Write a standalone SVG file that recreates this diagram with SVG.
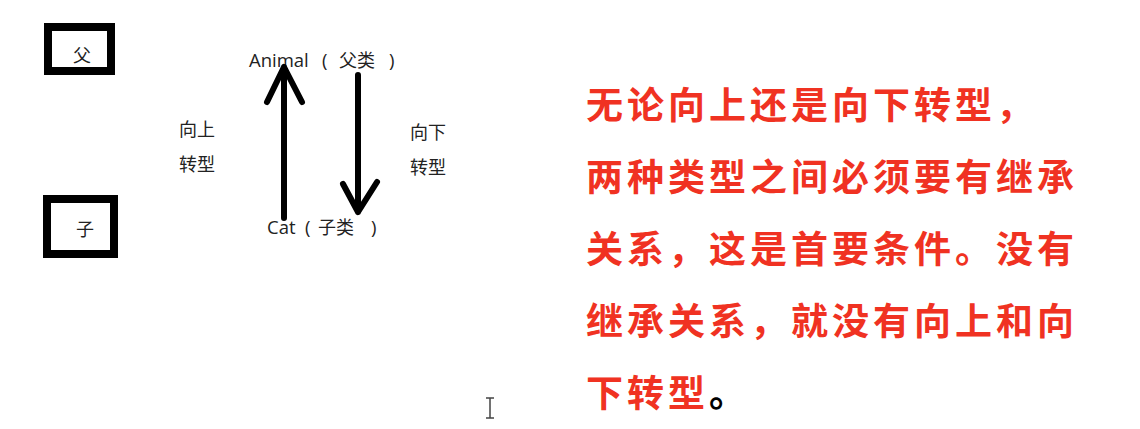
<svg xmlns="http://www.w3.org/2000/svg" width="1140" height="429" viewBox="0 0 1140 429">
<style>
.box{fill:#fff;stroke:#000;stroke-width:8}
.lbl{font-family:"Noto Sans CJK SC","Noto Sans",sans-serif;font-size:18px;fill:#222}
.lat{font-family:"Open Sans","Noto Sans CJK SC",sans-serif;font-size:18.5px;fill:#222}
.red{font-family:"Noto Sans CJK SC",sans-serif;font-size:37px;font-weight:bold;fill:#f03222;letter-spacing:4px}
.arr{stroke:#000;stroke-width:6;fill:none;stroke-linecap:round;stroke-linejoin:round}
</style>
<rect width="1140" height="429" fill="#fff"/>
<g id="node-fu">
<rect class="box" x="48" y="27" width="63" height="44"/>
<text class="lbl" x="73" y="62">父</text>
</g>
<g id="node-zi">
<rect class="box" x="47" y="199" width="67" height="55"/>
<text class="lbl" x="76" y="236">子</text>
</g>
<g id="node-animal">
<text class="lat" x="249" y="67"><tspan>Animal</tspan><tspan x="322">(</tspan><tspan class="lbl" x="339">父类</tspan><tspan x="389">)</tspan></text>
</g>
<g id="node-cat">
<text class="lat" x="267" y="234"><tspan>Cat</tspan><tspan x="305">(</tspan><tspan class="lbl" x="318">子类</tspan><tspan x="371">)</tspan></text>
</g>
<g id="connectors">
<path class="arr" d="M284 218 V67 M267 102 L284 67 L302 102"/>
<path class="arr" d="M358 75 V212 M343 184 L358 212 L377 182"/>
</g>
<g id="labels">
<text class="lbl" x="179" y="136">向上</text>
<text class="lbl" x="179" y="171">转型</text>
<text class="lbl" x="410" y="139">向下</text>
<text class="lbl" x="410" y="174">转型</text>
</g>
<g id="note">
<text class="red" x="586" y="119">无论向上还是向下转型，</text>
<text class="red" x="586" y="191">两种类型之间必须要有继承</text>
<text class="red" x="586" y="263">关系，这是首要条件。没有</text>
<text class="red" x="586" y="335">继承关系，就没有向上和向</text>
<text class="red" x="586" y="407">下转型<tspan fill="#000">。</tspan></text>
</g>
<path d="M486 398 H494 M490 398 V418 M486 418 H494" stroke="#444" stroke-width="1.5" fill="none"/>
</svg>
